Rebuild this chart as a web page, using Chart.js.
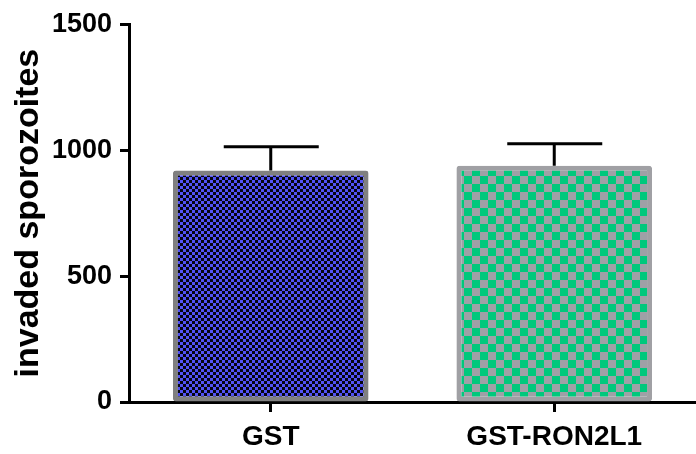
<!DOCTYPE html>
<html lang="en">

<head>
  <meta charset="UTF-8">
  <title>Invaded sporozoites</title>
  <script src="https://cdn.jsdelivr.net/npm/chart.js"></script>
  <style>
    html, body { margin: 0; padding: 0; background: #fff; }
    .grafico { position: relative; width: 696px; height: 454px; }
  </style>
</head>

<body>
  <div class="grafico">
    <canvas id="graficoBarras"></canvas>
  </div>

  <script>
    const grupos = ['GST', 'GST-RON2L1'];
    const medias = [919, 938];
    const erros = [94, 87];
    const ticksY = [0, 500, 1000, 1500];

    const fonte = "'Liberation Sans', Arial, sans-serif";

    // padrão xadrez para preencher as barras
    function xadrez(tam, cor1, cor2) {
      const c = document.createElement('canvas');
      c.width = tam * 2;
      c.height = tam * 2;
      const g = c.getContext('2d');
      g.fillStyle = cor2;
      g.fillRect(0, 0, tam * 2, tam * 2);
      g.fillStyle = cor1;
      g.fillRect(0, 0, tam, tam);
      g.fillRect(tam, tam, tam, tam);
      return g.createPattern(c, 'repeat');
    }

    const padraoAzul = xadrez(3, '#5252f5', '#050510');
    const padraoVerde = xadrez(8, '#00c87c', '#9fa0a6');

    // barras de erro (media + erro)
    const barrasErro = {
      id: 'barrasErro',
      afterDatasetsDraw(chart) {
        const ctx = chart.ctx;
        const y = chart.scales.y;
        const meta = chart.getDatasetMeta(0);
        ctx.save();
        ctx.strokeStyle = '#000';
        ctx.lineWidth = 3;
        meta.data.forEach((barra, i) => {
          const yBase = y.getPixelForValue(medias[i]);
          const yTopo = y.getPixelForValue(medias[i] + erros[i]);
          ctx.beginPath();
          ctx.moveTo(barra.x, yBase);
          ctx.lineTo(barra.x, yTopo);
          ctx.moveTo(barra.x - 47, yTopo);
          ctx.lineTo(barra.x + 48, yTopo);
          ctx.stroke();
        });
        ctx.restore();
      }
    };

    new Chart(document.getElementById('graficoBarras'), {
      type: 'bar',
      data: {
        labels: grupos,
        datasets: [{
          data: medias,
          backgroundColor: [padraoAzul, padraoVerde],
          borderColor: ['#808080', '#a0a0a4'],
          borderWidth: 5,
          borderSkipped: false,
          borderRadius: 3,
          barPercentage: 0.69,
          categoryPercentage: 1
        }]
      },
      options: {
        responsive: true,
        maintainAspectRatio: false,
        animation: false,
        layout: { padding: { top: 17, right: 0, left: 0, bottom: 0 } },
        plugins: {
          legend: { display: false },
          tooltip: { enabled: false }
        },
        scales: {
          x: {
            afterFit: (s) => { s.height = 52; },
            border: { color: '#000', width: 3 },
            grid: {
              offset: false,
              drawOnChartArea: false,
              drawTicks: true,
              tickLength: 10,
              tickWidth: 3,
              tickColor: '#000'
            },
            ticks: {
              color: '#000',
              padding: 8,
              font: { family: fonte, size: 28, weight: 'bold' }
            }
          },
          y: {
            min: 0,
            max: 1500,
            afterFit: (s) => { s.width = 129; },
            afterBuildTicks: (s) => { s.ticks = ticksY.map(v => ({ value: v })); },
            border: { color: '#000', width: 3 },
            grid: {
              drawOnChartArea: false,
              drawTicks: true,
              tickLength: 9,
              tickWidth: 3,
              tickColor: '#000'
            },
            ticks: {
              color: '#000',
              padding: 8,
              callback: (v) => String(v),
              font: { family: fonte, size: 27, weight: 'bold' }
            },
            title: {
              display: true,
              text: 'invaded sporozoites',
              color: '#000',
              padding: { top: 8, bottom: 0 },
              font: { family: fonte, size: 34, weight: 'bold' }
            }
          }
        }
      },
      plugins: [barrasErro]
    });
  </script>

</body>

</html>
